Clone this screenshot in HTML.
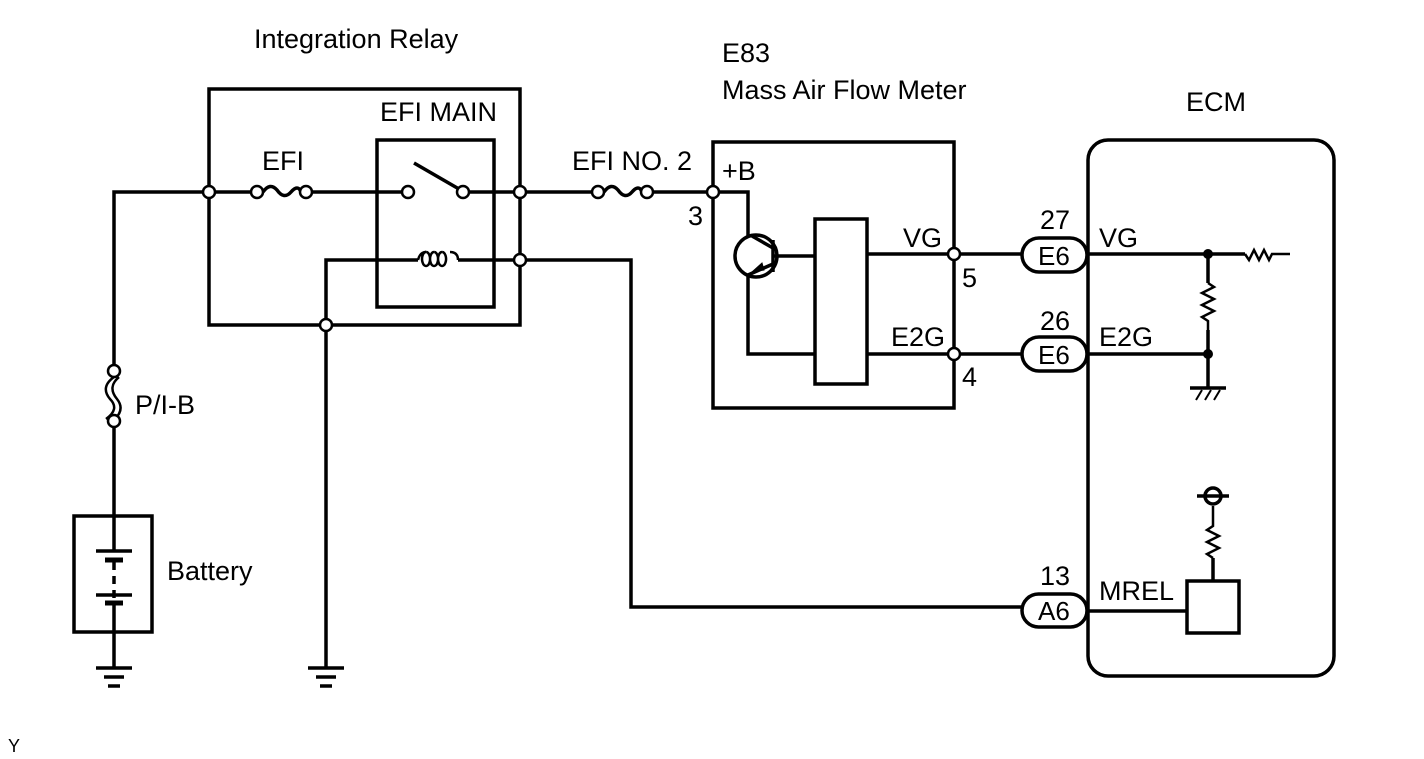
<!DOCTYPE html>
<html><head><meta charset="utf-8"><style>
html,body{margin:0;padding:0;background:#fff;}
svg{display:block;}
text{font-family:"Liberation Sans",Arial,sans-serif;font-size:27px;fill:#000;}
</style></head><body>
<svg width="1424" height="759" viewBox="0 0 1424 759" xmlns="http://www.w3.org/2000/svg">
<g fill="none" stroke="#000" stroke-width="3.5">
<rect x="209" y="89" width="311" height="236"/>
<rect x="377" y="140" width="117" height="167"/>
<polyline points="114,365 114,192 251,192"/>
<path d="M263,192 q7,-10 14,-2 q7,10 14,2 q7,-8 10,0"/>
<line x1="312" y1="192" x2="402" y2="192"/>
<line x1="414" y1="163" x2="459" y2="189"/>
<line x1="469" y1="192" x2="592" y2="192"/>
<path d="M604,192 q7,-10 14,-2 q7,10 14,2 q7,-8 10,0"/>
<line x1="653" y1="192" x2="707" y2="192"/>
<polyline points="326,668 326,260 418,260"/>
<path d="M418,260 q2,-8 8,-8 M426,252 a4,7 0 1,0 0.1,0 M434,252 a4,7 0 1,0 0.1,0 M442,252 a4,7 0 1,0 0.1,0 M450,252 q8,0 8,8" stroke-width="2.5"/>
<polyline points="458,260 631,260 631,607 1022,607"/>
<path d="M114,377 q-14,10 -4,22 q10,10 -4,20" stroke-width="2.5"/>
<path d="M119,377 q-12,10 -2,22 q8,10 -2,20" stroke-width="2.5"/>
<line x1="114" y1="427" x2="114" y2="516"/>
<rect x="74" y="516" width="78" height="116"/>
<line x1="114" y1="516" x2="114" y2="551"/>
<line x1="96" y1="551" x2="132" y2="551"/>
<line x1="105" y1="560" x2="123" y2="560" stroke-width="5"/>
<line x1="114" y1="562" x2="114" y2="600" stroke-dasharray="8,6"/>
<line x1="96" y1="595" x2="132" y2="595"/>
<line x1="105" y1="603" x2="123" y2="603" stroke-width="5"/>
<line x1="114" y1="605" x2="114" y2="668"/>
<line x1="96" y1="668" x2="132" y2="668"/><line x1="104" y1="677" x2="124" y2="677"/><line x1="108" y1="686" x2="120" y2="686"/>
<line x1="308" y1="668" x2="344" y2="668"/><line x1="316" y1="677" x2="336" y2="677"/><line x1="320" y1="686" x2="332" y2="686"/>
<rect x="713" y="142" width="241" height="266"/>
<polyline points="713,192 748,192 748,236"/>
<circle cx="756" cy="256" r="21"/>
<line x1="773" y1="240" x2="773" y2="272"/>
<line x1="773" y1="256" x2="815" y2="256"/>
<line x1="773" y1="248" x2="752" y2="236"/>
<line x1="773" y1="264" x2="748" y2="275"/>
<polyline points="748,275 748,354 815,354"/>
<polygon points="752,272 762,263 764,270" fill="#000" stroke-width="1"/>
<rect x="815" y="219" width="52" height="165"/>
<line x1="867" y1="254" x2="1022" y2="254"/>
<line x1="867" y1="354" x2="1022" y2="354"/>
<rect x="1022" y="238" width="65" height="34" rx="17"/>
<rect x="1022" y="337" width="65" height="34" rx="17"/>
<rect x="1022" y="594" width="65" height="33" rx="16.5"/>
<rect x="1088" y="140" width="246" height="536" rx="20"/>
<line x1="1087" y1="254" x2="1245" y2="254"/>
<path d="M1245,254 l4,6 l5,-10 l5,10 l5,-10 l5,10 l3,-6 l18,0" stroke-width="2.5"/>
<line x1="1208" y1="254" x2="1208" y2="283"/>
<path d="M1208,283 l6,4 l-12,6 l12,6 l-12,6 l12,6 l-12,6 l6,4 l0,10" stroke-width="2.5"/>
<line x1="1087" y1="354" x2="1208" y2="354"/>
<line x1="1208" y1="330" x2="1208" y2="388"/>
<line x1="1190" y1="388" x2="1226" y2="388"/>
<path d="M1196,400 l6,-10 M1205,400 l6,-10 M1214,400 l6,-10" stroke-width="2"/>
<line x1="1087" y1="611" x2="1187" y2="611"/>
<rect x="1187" y="581" width="52" height="52"/>
<line x1="1213" y1="581" x2="1213" y2="558"/>
<path d="M1213,558 l-6,-4 l12,-6 l-12,-6 l12,-6 l-12,-6 l6,-4 l0,-20" stroke-width="2.5"/>
<circle cx="1213" cy="496" r="8"/>
<line x1="1197" y1="496" x2="1229" y2="496"/>
</g>
<g fill="#000">
<circle cx="1208" cy="254" r="5"/><circle cx="1208" cy="354" r="5"/>
</g>
<g fill="#fff" stroke="#000" stroke-width="2.5">
<circle cx="209" cy="192" r="6"/><circle cx="257" cy="192" r="6"/><circle cx="306" cy="192" r="6"/>
<circle cx="408" cy="192" r="6"/><circle cx="463" cy="192" r="6"/><circle cx="520" cy="192" r="6"/>
<circle cx="520" cy="260" r="6"/><circle cx="326" cy="325" r="6"/>
<circle cx="598" cy="192" r="6"/><circle cx="647" cy="192" r="6"/><circle cx="713" cy="192" r="6"/>
<circle cx="954" cy="254" r="6"/><circle cx="954" cy="354" r="6"/>
<circle cx="114" cy="371" r="6"/><circle cx="114" cy="421" r="6"/>
</g>
<text x="254" y="48">Integration Relay</text>
<text x="380" y="121">EFI MAIN</text>
<text x="262" y="170">EFI</text>
<text x="572" y="170">EFI NO. 2</text>
<text x="722" y="180">+B</text>
<text x="688" y="225">3</text>
<text x="722" y="62">E83</text>
<text x="722" y="99">Mass Air Flow Meter</text>
<text x="1186" y="111">ECM</text>
<text x="903" y="247">VG</text>
<text x="962" y="287">5</text>
<text x="891" y="346">E2G</text>
<text x="962" y="386">4</text>
<text x="1040" y="229">27</text>
<text x="1038" y="265" style="font-size:26px">E6</text>
<text x="1040" y="330">26</text>
<text x="1038" y="364" style="font-size:26px">E6</text>
<text x="1040" y="585">13</text>
<text x="1038" y="620" style="font-size:26px">A6</text>
<text x="1099" y="247">VG</text>
<text x="1099" y="346">E2G</text>
<text x="1099" y="600">MREL</text>
<text x="135" y="414">P/I-B</text>
<text x="167" y="580">Battery</text>
<text x="8" y="752" style="font-size:18px">Y</text>
</svg>
</body></html>
